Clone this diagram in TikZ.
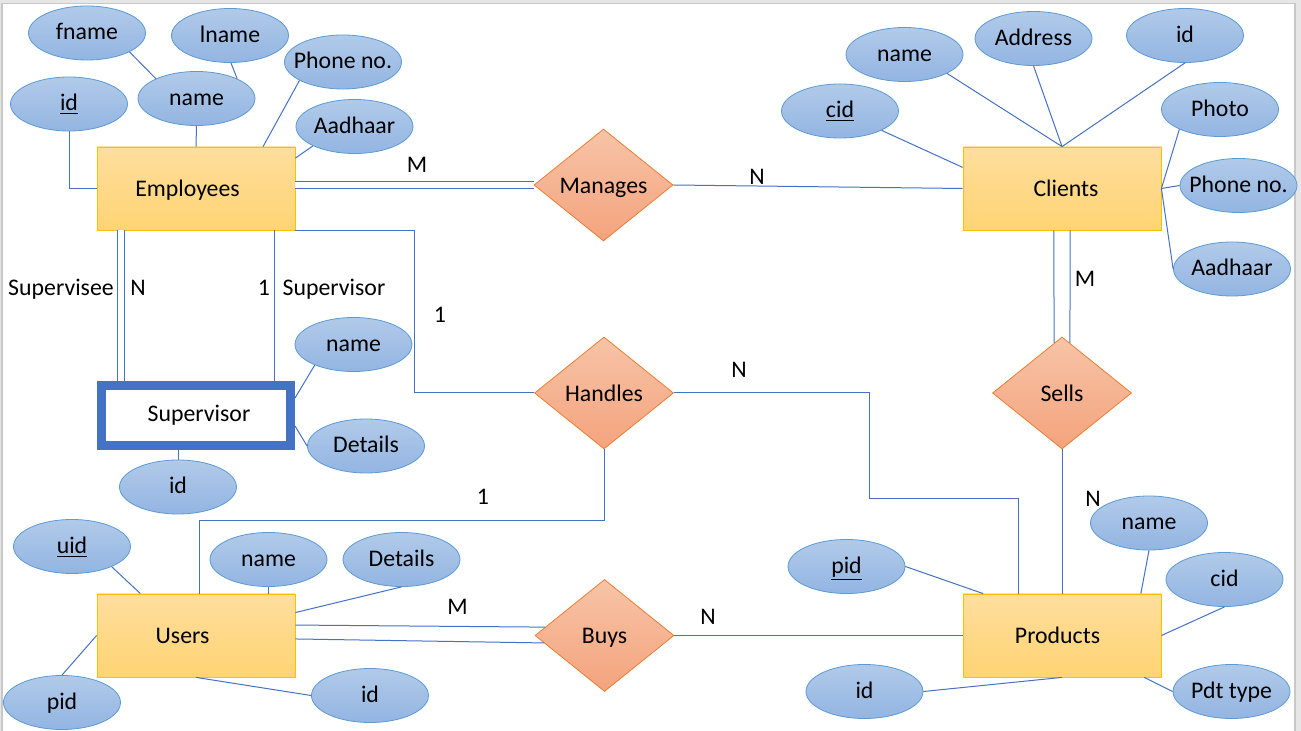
\documentclass[tikz,border=0pt]{standalone}
\usepackage{fontspec}
\setmainfont{Carlito}
\usepackage{tikz}
\usetikzlibrary{shapes.geometric}
\usepackage{xcolor}
\definecolor{ellTop}{HTML}{B1CAE9}
\definecolor{ellBot}{HTML}{93B5E2}
\definecolor{ellLine}{HTML}{5B9BD5}
\definecolor{entTop}{HTML}{FFDE9E}
\definecolor{entBot}{HTML}{FFD473}
\definecolor{entLine}{HTML}{FFC000}
\definecolor{relTop}{HTML}{F7C4A7}
\definecolor{relBot}{HTML}{F4A37D}
\definecolor{relLine}{HTML}{ED7D31}
\definecolor{lnBlue}{HTML}{4472C4}
\definecolor{pageGray}{HTML}{E6E6E6}
\definecolor{edgeGray}{HTML}{C8C8C8}
\tikzset{%
	entity/.style={
		rectangle,
		draw=entLine,
		top color=entTop,
		bottom color=entBot,
		minimum width=99pt,
		minimum height=41.5pt,
		text height=8.2pt,
		text depth=0pt
	},
	weak entity/.style={
		rectangle,
		draw=lnBlue,
		line width=4.5pt,
		fill=white,
		minimum width=94.5pt,
		minimum height=30pt,
		text height=6pt,
		text depth=0pt
	},
	attribute/.style={
		ellipse,
		draw=ellLine,
		top color=ellTop,
		bottom color=ellBot,
		minimum width=58.5pt,
		minimum height=27pt,
		inner xsep=-12pt,
		inner ysep=0pt,
		text height=6.7pt,
		text depth=0pt
	},
	relation/.style={
		diamond,
		draw=relLine,
		top color=relTop,
		bottom color=relBot,
		minimum width=69.5pt,
		minimum height=56pt,
		inner sep=0pt,
		text height=8.2pt,
		text depth=0pt
	},
}

\begin{document}
\begin{tikzpicture}[x=0.5pt, y=-0.5pt, font=\fontsize{11.9}{14}\selectfont]
	\tikzstyle{link}=[draw=lnBlue, line width=0.5pt]
	\tikzstyle{card}=[text height=7.6pt, text depth=0pt]
	
	\useasboundingbox (0,0) rectangle (1301,731);
	\fill[pageGray] (0,0) rectangle (1301,731);
	\filldraw[fill=white, draw=edgeGray, line width=0.6pt] (2,3.5) rectangle (1295,745);
	
	% entities
	\node[entity](emp) at (196,188.5){\hspace*{-8.5pt}Employees};
	\node[entity](cli) at (1062,188.5){\hspace*{4pt}Clients};
	\node[entity](usr) at (196,635.5){\hspace*{-13.5pt}Users};
	\node[entity](prod) at (1062,635.5){\hspace*{-4.5pt}Products};
	\node[weak entity](sup) at (196,415.5){\hspace*{3pt}Supervisor};
	
	% relationships
	\node[relation](man) at (603.5,185){Manages};
	\node[relation](han) at (604,393){Handles};
	\node[relation](sel) at (1062,393){Sells};
	\node[relation](buy) at (604.5,635.5){Buys};
	
	% attributes
	\node[attribute](empfname) at (87,33){fname};
	\node[attribute](emplname) at (230,35.5){lname};
	\node[attribute](empid) at (69,104){\underline{id}};
	\node[attribute](empname) at (196.5,98.5){name};
	\node[attribute](empphone) at (343,62){Phone no.};
	\node[attribute](empaadhaar) at (354.5,126.5){Aadhaar};
	
	\node[attribute](supname) at (353.5,344.5){name};
	\node[attribute](supdet) at (366,446){Details};
	\node[attribute](supid) at (178,487){id};
	
	\node[attribute](clicid) at (840,111){\underline{cid}};
	\node[attribute](cliname) at (904.5,54.5){name};
	\node[attribute](cliaddr) at (1033.5,38.5){Address};
	\node[attribute](cliid) at (1185,35.5){id};
	\node[attribute](cliphoto) at (1220,109.5){Photo};
	\node[attribute](cliphone) at (1238.5,185.5){Phone no.};
	\node[attribute](cliaadhaar) at (1232,269){Aadhaar};
	
	\node[attribute](prodpid) at (846.5,566.5){\underline{pid}};
	\node[attribute](prodname) at (1149,523){name};
	\node[attribute](prodcid) at (1224.5,579.5){cid};
	\node[attribute](prodid) at (864.5,691.5){id};
	\node[attribute](prodpdt) at (1231.5,691.5){Pdt type};
	
	\node[attribute](usruid) at (72,546.5){\underline{uid}};
	\node[attribute](usrname) at (268.5,559.5){name};
	\node[attribute](usrdet) at (401.5,559.5){Details};
	\node[attribute](usrpid) at (62,702.5){pid};
	\node[attribute](usrid) at (370,695.5){id};
	
	% attribute links
	\draw[link] (empfname.-24) -- (empname.154);
	\draw[link] (emplname.-88) -- (empname.26);
	\draw[link] (empid.south) |- (emp.west);
	\draw[link] (empname.south) -- (emp.north);
	\draw[link] (empphone.203) -- (emp.32);
	\draw[link] (empaadhaar.205) -- (emp.17);
	
	\draw[link] (supname.208) -- (sup.10);
	\draw[link] (supdet.west) -- (sup.-6);
	\draw[link] (supid.north) -- (supid.north |- sup.south);
	
	\draw[link] (clicid.-25) -- (cli.168);
	\draw[link] (cliname.-24) -- (cli.north);
	\draw[link] (cliaddr.south) -- (cli.north);
	\draw[link] (cliid.south) -- (cli.north);
	\draw[link] (cliphoto.206) -- (cli.east);
	\draw[link] (cliphone.west) -- (cli.east);
	\draw[link] (cliaadhaar.west) -- (cli.east);
	
	\draw[link] (prodpid.east) -- (prod.152);
	\draw[link] (prodname.south) -- (prod.28);
	\draw[link] (prodcid.south) -- (prod.east);
	\draw[link] (prodid.east) -- (prod.south);
	\draw[link] (prodpdt.west) -- (prod.-27);
	
	\draw[link] (usruid.-27) -- (usr.143);
	\draw[link] (usrname.south) -- (usrname.south |- usr.north);
	\draw[link] (usrdet.south) -- (usr.13);
	\draw[link] (usrpid.north) -- (usr.west);
	\draw[link] (usrid.west) -- (usr.south);
	
	% relationship links
	\draw[link, double=white, double distance=2.8pt] (emp.east |- man.west) -- (man.west);
	\draw[link] (man.east) -- (cli.west);
	
	\draw[link, double=white, double distance=3pt] ([xshift=-37.75pt]emp.south) -- ([xshift=-37.75pt]sup.north);
	\draw[link] ([xshift=39pt]emp.south) -- ([xshift=39pt]sup.north);
	
	\draw[link] (emp.south east) -- ++(119,0) |- (han.west);
	\draw[link] (han.south) -- ++(0,71) -| ([xshift=1.5pt]usr.north);
	\draw[link] (han.east) -| ++(196,106) -| ([xshift=-22pt]prod.north);
	
	\draw[link] (cli.259) -- (sel.99);
	\draw[link] (cli.281) -- (sel.81);
	\draw[link] (sel.south) -- (prod.north);
	
	\draw[link] (usr.6.6) -- (buy.172);
	\draw[link] (usr.-2.6) -- (buy.187);
	\draw[link] (buy.east) -- (prod.west);
	
	% cardinalities and roles
	\node[card](empman) at (417,164.5){M};
	\node[card](climan) at (757,177){N};
	\node[card](seerole) at (61,288){Supervisee};
	\node[card](seecard) at (138,288){N};
	\node[card](sorcard) at (264,288){1};
	\node[card](sorrole) at (334,288){Supervisor};
	\node[card](emphan) at (440,315){1};
	\node[card](prodhan) at (739,370){N};
	\node[card](usrhan) at (483,497){1};
	\node[card](clisel) at (1085,279){M};
	\node[card](prodsel) at (1093,499){N};
	\node[card](usrbuy) at (457.5,607){M};
	\node[card](prodbuy) at (708,617){N};
\end{tikzpicture}
\end{document}
